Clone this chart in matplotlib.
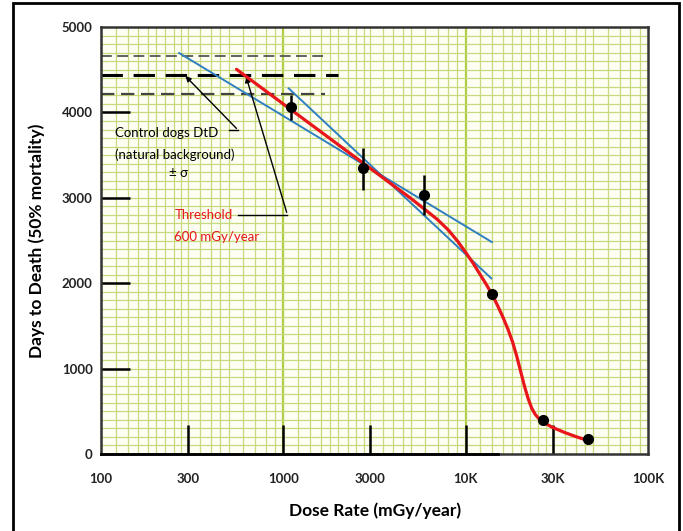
import matplotlib
matplotlib.use("Agg")
import matplotlib.pyplot as plt
from matplotlib.patches import Rectangle
from matplotlib.ticker import FixedLocator, NullFormatter

plt.rcParams['font.family'] = ['Lato', 'DejaVu Sans']

# measured points (dose rate mGy/year, days to death)
dose = [1100, 2740, 5900, 13900, 26500, 46800]
days = [4060, 3345, 3033, 1873, 398, 176]
err_lo = [150, 255, 234, 0, 0, 0]
err_hi = [150, 235, 234, 0, 0, 0]

# red threshold curve
red_x = [553, 1000, 2000, 3000, 4000, 5000, 6000, 7000, 8000, 9000, 10000,
         11000, 12000, 13000, 14000, 15000, 16000, 17000, 18000, 19000, 20000,
         21000, 22000, 23000, 24000, 25000, 26000, 28000, 30000, 35000, 40000, 47600]
red_y = [4505, 4098, 3622, 3344, 3146, 2993, 2860, 2745, 2625, 2495, 2360,
         2230, 2100, 1980, 1860, 1730, 1600, 1465, 1320, 1150, 965,
         790, 645, 535, 465, 420, 390, 345, 310, 250, 205, 152]

# blue linear fits (end points)
blue1_x = [268, 13900]
blue1_y = [4696, 2482]
blue2_x = [1069, 13800]
blue2_y = [4282, 2057]

# control dogs mean +/- sigma
ctrl_mean = 4438
ctrl_hi = 4660
ctrl_lo = 4215

x_ticks = [100, 300, 1000, 3000, 10000, 30000, 100000]
x_labels = ['100', '300', '1000', '3000', '10K', '30K', '100K']
y_ticks = [0, 1000, 2000, 3000, 4000, 5000]

fig = plt.figure(figsize=(6.83, 5.31), dpi=100)
ax = fig.add_axes([0.148, 0.145, 0.801, 0.804])
ax.set_facecolor('#fefef2')
ax.set_xscale('log')
ax.set_xlim(100, 100000)
ax.set_ylim(0, 5000)

# graph paper grid
grid_c = '#c6d97e'
for dec in [100, 1000, 10000]:
    for m in [1.2, 1.4, 1.6, 1.8, 2, 2.25, 2.5, 2.75, 3, 3.5, 4, 4.5, 5, 6, 7, 8, 9]:
        ax.axvline(dec * m, color=grid_c, lw=0.9, zorder=0)
for v in [1000, 10000]:
    ax.axvline(v, color='#b0ce45', lw=1.6, zorder=0)
for yv in range(100, 5000, 100):
    ax.axhline(yv, color=grid_c, lw=0.9, zorder=0)

# control dog lines
ax.plot([100, 1750], [ctrl_hi, ctrl_hi], color='#555555', lw=1.3, dashes=(6, 3), zorder=2)
ax.plot([100, 2000], [ctrl_mean, ctrl_mean], color='black', lw=2.2, dashes=(7, 3.5), zorder=2)
ax.plot([100, 1700], [ctrl_lo, ctrl_lo], color='#444444', lw=1.6, dashes=(6, 3), zorder=2)

# fits and curve
ax.plot(blue1_x, blue1_y, color='#2f7fc1', lw=1.4, zorder=3)
ax.plot(blue2_x, blue2_y, color='#2f7fc1', lw=1.4, zorder=3)
ax.plot(red_x, red_y, color='#e8151b', lw=2.3, zorder=4,
        solid_capstyle='round', solid_joinstyle='round')

ax.errorbar(dose, days, yerr=[err_lo, err_hi], fmt='o', color='black',
            ms=7, elinewidth=1.8, capsize=0, zorder=5)

# annotations
ax.text(119, 3759, 'Control dogs DtD', fontsize=9.5, va='center', ha='left')
ax.text(119, 3501, '(natural background)', fontsize=9.5, va='center', ha='left')
ax.text(265, 3290, '\u00b1 \u03c3', fontsize=9.5, va='center', ha='center')
ax.plot([505, 566], [3790, 3790], color='black', lw=1)
ax.annotate('', xy=(283, 4450), xytext=(566, 3790),
            arrowprops=dict(arrowstyle='-|>', color='black', lw=1, mutation_scale=8))

ax.text(252, 2799, 'Threshold', fontsize=9.5, color='#e8151b', va='center', ha='left')
ax.text(252, 2541, '600 mGy/year', fontsize=9.5, color='#e8151b', va='center', ha='left')
ax.plot([560, 1052], [2799, 2799], color='black', lw=1)
ax.annotate('', xy=(618, 4450), xytext=(1052, 2799),
            arrowprops=dict(arrowstyle='-|>', color='black', lw=1, mutation_scale=8))

# ticks: labels on major, black inward marks on minor
ax.xaxis.remove_overlapping_locs = False
ax.yaxis.remove_overlapping_locs = False
ax.xaxis.set_major_locator(FixedLocator(x_ticks))
ax.set_xticklabels(x_labels)
ax.xaxis.set_minor_locator(FixedLocator([300, 1000, 3000, 10000, 30000]))
ax.xaxis.set_minor_formatter(NullFormatter())
ax.yaxis.set_major_locator(FixedLocator(y_ticks))
ax.yaxis.set_minor_locator(FixedLocator([1000, 2000, 3000, 4000]))
ax.yaxis.set_minor_formatter(NullFormatter())
ax.tick_params(which='major', length=0, labelsize=9.5)
ax.tick_params(axis='x', which='major', pad=14)
ax.tick_params(axis='y', which='major', pad=6)
ax.tick_params(which='minor', direction='in', length=21, width=1.8, color='black')
for lab in ax.get_xticklabels() + ax.get_yticklabels():
    lab.set_fontweight('bold')
    lab.set_color('#222222')

for s in ax.spines.values():
    s.set_color('#333333')
    s.set_linewidth(1.8)
ax.plot([100, 15000], [0, 0], color='black', lw=2.0, clip_on=False, zorder=6)

ax.set_xlabel('Dose Rate (mGy/year)', fontsize=12.5, fontweight='bold', labelpad=12)
ax.set_ylabel('Days to Death (50% mortality)', fontsize=12.5, fontweight='bold', labelpad=12)

fig.patches.append(Rectangle((13 / 683, -0.05), 666 / 683, 1.05 - 3 / 531,
                             transform=fig.transFigure, fill=False,
                             edgecolor='black', lw=2))

fig.savefig('out.png', dpi=100)
